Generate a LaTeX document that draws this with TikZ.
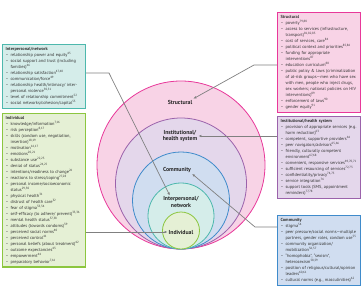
\documentclass[tikz,border=0pt]{standalone}
\usepackage{fontspec}
\setmainfont{PT Sans}
\usepackage{tikz}
\usetikzlibrary{positioning,arrows.meta}
\usepackage{xcolor}

\definecolor{strucfill}{HTML}{F8D3E6}
\definecolor{strucline}{HTML}{E8389A}
\definecolor{instfill}{HTML}{E4D7EB}
\definecolor{instline}{HTML}{9B62AB}
\definecolor{commfill}{HTML}{D0DDF0}
\definecolor{commline}{HTML}{3F8BCB}
\definecolor{interfill}{HTML}{D5EDEA}
\definecolor{interline}{HTML}{4DB8AD}
\definecolor{indivfill}{HTML}{E5F0D5}
\definecolor{indivline}{HTML}{8CC63F}
\definecolor{connc}{HTML}{808080}

\newcommand{\itm}{\par\hangindent=5bp\hangafter=1\noindent\makebox[5bp][l]{--}}
\newcommand{\rf}[1]{\textsuperscript{#1}}

\begin{document}
\begin{tikzpicture}[x=1bp,y=-1bp,
  ring/.style={circle,line width=0.8bp,inner sep=0pt},
  lbl/.style={font=\fontsize{5.8}{6.4}\selectfont\bfseries,align=center,inner sep=1bp,text=black!85},
  box/.style={anchor=north west,line width=1.2bp,inner xsep=3bp,inner ysep=3bp,
    text width=77bp,align=left,font=\fontsize{4.4}{6.0}\selectfont,text=black!80},
  conn/.style={draw=connc,line width=0.7bp,-{Latex[length=3bp,width=2.6bp]}}]
\useasboundingbox (0,0) rectangle (363,303);

% nested circles
\node[ring,draw=strucline,fill=strucfill,minimum size=168bp] (strucC) at (181,165) {};
\node[ring,draw=instline,fill=instfill,minimum size=131bp] (instC) at (181,183.5) {};
\node[ring,draw=commline,fill=commfill,minimum size=97bp] (commC) at (181,200.5) {};
\node[ring,draw=interline,fill=interfill,minimum size=66bp] (interC) at (181,216) {};
\node[ring,draw=indivline,fill=indivfill,minimum size=37bp] (indivC) at (181,230.5) {};

\node[lbl] (strucL) at (180,102) {Structural};
\node[lbl] (instL) at (180,136) {Institutional/\\health system};
\node[lbl] (commL) at (177,170) {Community};
\node[lbl] (interL) at (181,202) {Interpersonal/\\network};
\node[lbl] (indivL) at (181,232) {Individual};

% left boxes
\node[box,draw=interline,fill=interfill] (interB) at (2,44) {\textbf{Interpersonal/network}
\itm relationship power and equity\rf{45}
\itm social support and trust (including families)\rf{46}
\itm relationship satisfaction\rf{47,48}
\itm communication/force\rf{49}
\itm relationship health/intimacy/ interpersonal violence\rf{50,51}
\itm level of relationship commitment\rf{52}
\itm social networks/cohesion/capital\rf{53}\par};

\node[box,draw=indivline,fill=indivfill] (indivB) at (2,113) {\textbf{Individual}
\itm knowledge/information\rf{7,16}
\itm risk perception\rf{8,17}
\itm skills (condom use, negotiation, insertion)\rf{18,19}
\itm motivation\rf{16,17}
\itm emotions\rf{20,21}
\itm substance use\rf{22,23}
\itm denial of status\rf{24,25}
\itm intentions/readiness to change\rf{26}
\itm reactions to stress/coping\rf{27,28}
\itm personal income/socioeconomic status\rf{29,30}
\itm physical health\rf{31}
\itm distrust of health care\rf{32}
\itm fear of stigma\rf{33,34}
\itm self-efficacy (to adhere/ prevent)\rf{35,36}
\itm mental health status\rf{37,38}
\itm attitudes (towards condoms)\rf{39}
\itm perceived social norms\rf{40}
\itm perceived control\rf{41}
\itm personal beliefs (about treatment)\rf{42}
\itm outcome expectancies\rf{43}
\itm empowerment\rf{44}
\itm preparatory behavior\rf{7,16}\par};

% right boxes
\node[box,draw=strucline,fill=strucfill] (strucB) at (277,12) {\textbf{Structural}
\itm poverty\rf{79,80}
\itm access to services (infrastructure, transport)\rf{81,82,83}
\itm cost of services, care\rf{84}
\itm political context and priorities\rf{85,86}
\itm funding for appropriate interventions\rf{87}
\itm education curriculum\rf{88}
\itm public policy \& laws (criminalization of at-risk groups---men who have sex with men, people who inject drugs, sex workers; national policies on HIV interventions)\rf{89}
\itm enforcement of laws\rf{90}
\itm gender equity\rf{91}\par};

\node[box,draw=instline,fill=instfill] (instB) at (277,116) {\textbf{Institutional/health system}
\itm provision of appropriate services (e.g. harm reduction)\rf{63}
\itm competent, supportive providers\rf{64}
\itm peer navigators/advisors\rf{65,66}
\itm friendly, culturally competent environment\rf{67,68}
\itm convenient, responsive services\rf{69,70,71}
\itm sufficient resourcing of services\rf{72,73}
\itm confidentiality/privacy\rf{74,75}
\itm service integration\rf{76}
\itm support tools (SMS, appointment reminders)\rf{77,78}\par};

\node[box,draw=commline,fill=commfill] (commB) at (277,215) {\textbf{Community}
\itm stigma\rf{54}
\itm peer pressure/social norms---multiple partners, gender roles, condom use\rf{55}
\itm community organization/ mobilization\rf{56,57}
\itm ``homophobia'', ``sexism'', heterosexism\rf{58,59}
\itm position of religious/cultural/opinion leaders\rf{60,61}
\itm cultural norms (e.g., masculinities)\rf{62}\par};

% connectors
\coordinate (interK) at (109,73);
\coordinate (strucK) at (254,65);
\coordinate (commK) at (255,227);
\draw[conn] (interB.east |- interK) -- (interK) -- (interL.150);
\draw[conn] (indivB.east |- indivL.west) -- (indivL.west);
\draw[conn] (strucB.west |- strucK) -- (strucK) -- (strucL.north east);
\draw[conn] (instB.west |- instL.east) -- (instL.east);
\draw[conn] (commB.west |- commK) -- (commK) -- (commL.south east);
\end{tikzpicture}
\end{document}
